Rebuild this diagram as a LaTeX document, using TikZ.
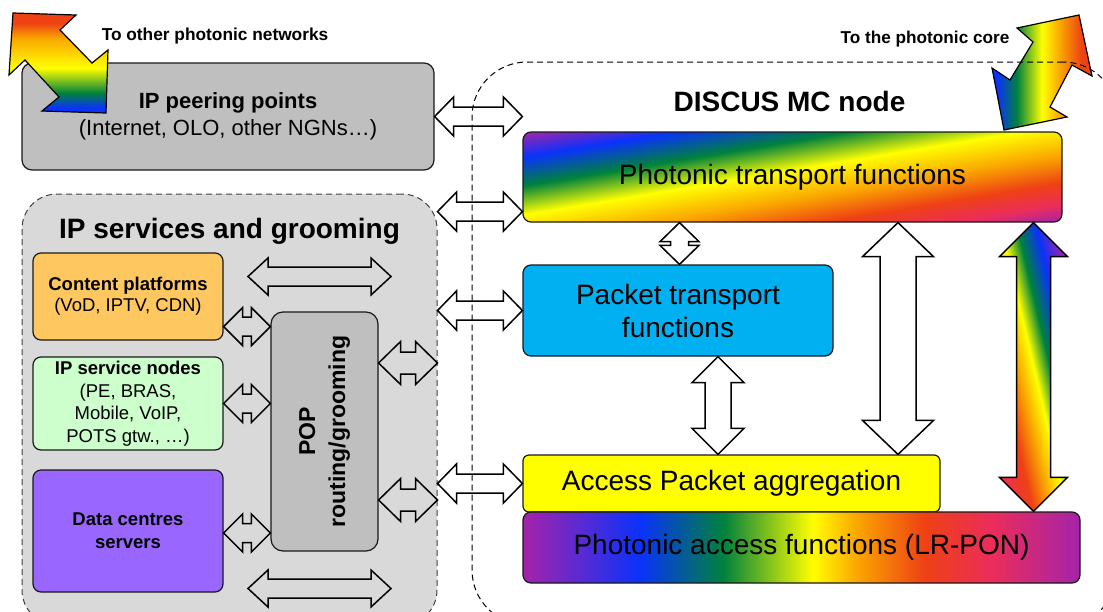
\documentclass[tikz,border=0pt]{standalone}
\usepackage{fontspec}
\setmainfont{Liberation Sans}
\usepackage{tikz}
\usetikzlibrary{calc}

% fills
\definecolor{peergray}{RGB}{191,191,191}
\definecolor{svcgray}{RGB}{217,217,217}
\definecolor{contentorange}{RGB}{255,199,95}
\definecolor{nodegreen}{RGB}{204,255,204}
\definecolor{dcpurple}{RGB}{153,102,255}
\definecolor{pktblue}{RGB}{0,176,240}
\definecolor{accyellow}{RGB}{255,255,0}
% rainbow
\definecolor{rbPurple}{RGB}{165,35,170}
\definecolor{rbBlue}{RGB}{10,50,250}
\definecolor{rbGreen}{RGB}{0,130,60}
\definecolor{rbYellow}{RGB}{255,255,0}
\definecolor{rbOrange}{RGB}{250,165,0}
\definecolor{rbRed}{RGB}{238,65,20}
\definecolor{rbPink}{RGB}{235,45,90}

\pgfdeclarehorizontalshading{rbPon}{100bp}{color(0bp)=(rbPurple); color(25bp)=(rbPurple);
  color(35.5bp)=(rbBlue); color(43bp)=(rbGreen); color(51bp)=(rbYellow); color(55bp)=(rbOrange);
  color(61bp)=(rbRed); color(67bp)=(rbPink); color(75bp)=(rbPurple); color(100bp)=(rbPurple)}
\pgfdeclarehorizontalshading{rbTransport}{100bp}{color(0bp)=(rbPurple); color(25bp)=(rbPurple);
  color(32bp)=(rbBlue); color(40bp)=(rbGreen); color(48bp)=(rbYellow); color(56.5bp)=(rbOrange);
  color(64bp)=(rbRed); color(70bp)=(rbPink); color(75bp)=(rbPurple); color(100bp)=(rbPurple)}
\pgfdeclarehorizontalshading{rbArrow}{100bp}{color(0bp)=(rbPink); color(27.5bp)=(rbPink);
  color(37.5bp)=(rbRed); color(44bp)=(rbOrange); color(50bp)=(rbYellow); color(56bp)=(rbGreen);
  color(63bp)=(rbBlue); color(71bp)=(rbPurple); color(100bp)=(rbPurple)}
\pgfdeclarehorizontalshading{rbCore}{100bp}{color(0bp)=(rbBlue); color(27.5bp)=(rbBlue);
  color(37.5bp)=(rbGreen); color(50bp)=(rbYellow); color(59bp)=(rbOrange); color(70bp)=(rbRed);
  color(100bp)=(rbRed)}
\pgfdeclareverticalshading{rbNet}{100bp}{color(0bp)=(rbBlue); color(27.5bp)=(rbBlue);
  color(35bp)=(rbGreen); color(47.5bp)=(rbYellow); color(62.5bp)=(rbOrange); color(70bp)=(rbRed);
  color(100bp)=(rbRed)}

\tikzset{
  box/.style={draw=black!90, line width=1.2pt, rounded corners=8pt, inner sep=0pt, align=center},
  fat/.style={draw=black, line width=1.5pt, line join=miter},
  % half head width, half shaft width, head length
  hfat/.style n args={3}{to path={
    -- ([shift={(#3,#1)}]\tikztostart) -- ([shift={(#3,#2)}]\tikztostart)
    -- ([shift={(-#3,#2)}]\tikztotarget) -- ([shift={(-#3,#1)}]\tikztotarget)
    -- (\tikztotarget)
    -- ([shift={(-#3,-#1)}]\tikztotarget) -- ([shift={(-#3,-#2)}]\tikztotarget)
    -- ([shift={(#3,-#2)}]\tikztostart) -- ([shift={(#3,-#1)}]\tikztostart)
    -- cycle}},
  vfat/.style n args={3}{to path={
    -- ([shift={(#1,#3)}]\tikztostart) -- ([shift={(#2,#3)}]\tikztostart)
    -- ([shift={(#2,-#3)}]\tikztotarget) -- ([shift={(#1,-#3)}]\tikztotarget)
    -- (\tikztotarget)
    -- ([shift={(-#1,-#3)}]\tikztotarget) -- ([shift={(-#2,-#3)}]\tikztotarget)
    -- ([shift={(-#2,#3)}]\tikztostart) -- ([shift={(-#1,#3)}]\tikztostart)
    -- cycle}},
  bigtext/.style={font=\fontsize{28}{33}\selectfont},
  smalltext/.style={font=\fontsize{18.5}{22.5}\selectfont},
}

\begin{document}
\begin{tikzpicture}[x=1pt, y=-1pt]
  \useasboundingbox (0,0) rectangle (1103,611);

  % IP services and grooming area
  \node[box, draw=black!75, line width=1pt, dash pattern=on 6pt off 4pt, fill=svcgray,
        rounded corners=35pt, minimum width=415pt, minimum height=431pt] (ipsvc) at (229.5,409.5) {};
  \node[font=\bfseries\fontsize{28}{33}\selectfont] (svctitle) at (229.5,231) {IP services and grooming};

  % IP peering points
  \node[box, fill=peergray, rounded corners=10pt, minimum width=412pt, minimum height=107pt,
        font=\fontsize{22}{27}\selectfont] (peer) at (228,116.5)
        {\textbf{IP peering points}\\(Internet, OLO, other NGNs…)};

  % photonic arrows to the outside
  \shadedraw[fat, line width=1.2pt, shading=rbNet] (13,13) -- (76,15) -- (60,30) -- (92,63) -- (108,50)
    -- (106,113) -- (42,111) -- (59,97) -- (25,60) -- (9,75) -- cycle;
  \node[font=\bfseries\fontsize{17.3}{20}\selectfont] (netlbl) at (215,36.5) {To other photonic networks};

  \shadedraw[fat, line width=1.2pt, shading=rbCore] (1079,15) -- (1092,76) -- (1072,65) -- (1050,107)
    -- (1067,117) -- (1004,130) -- (992,68) -- (1010,80) -- (1033,42) -- (1017,28) -- cycle;
  \node[font=\bfseries\fontsize{17.2}{20}\selectfont] (corelbl) at (925,39) {To the photonic core};

  % DISCUS MC node
  \node[draw=black, line width=1pt, dash pattern=on 6pt off 4pt, rounded corners=55pt,
        minimum width=646pt, minimum height=563pt] (mc) at (795,343.5) {};
  \node[font=\bfseries\fontsize{28}{33}\selectfont] (mctitle) at (789.5,101) {DISCUS MC node};

  % diagonal rainbow behind the photonic transport box
  \begin{scope}
    \clip[rounded corners=8pt] (523,132) rectangle (1062,222);
    \shade[shading=rbTransport, transform canvas={shift={(792.5,177)}, cm={10.78,-1.8,10.78,1.8,(0,0)}}]
      (-25,-25) rectangle (25,25);
  \end{scope}
  \node[box, minimum width=539pt, minimum height=90pt, bigtext] (ptf) at (792.5,177)
        {Photonic transport functions};
  \node[box, fill=pktblue, minimum width=310pt, minimum height=91pt, bigtext] (pkt) at (678,310.5)
        {Packet transport\\functions};
  \node[box, fill=accyellow, rounded corners=6pt, minimum width=417pt, minimum height=57pt, bigtext]
        (apa) at (731.5,483.5) {Access Packet aggregation};
  \node[box, shade, shading=rbPon, minimum width=557pt, minimum height=71pt, bigtext] (pon)
        at (801.5,547.5) {Photonic access functions (LR-PON)};

  % service platforms
  \node[box, fill=contentorange, minimum width=190pt, minimum height=87pt,
        font=\fontsize{18.5}{21}\selectfont] (content) at (128,296.5)
        {\textbf{Content platforms}\\(VoD, IPTV, CDN)};
  \node[box, fill=nodegreen, minimum width=190pt, minimum height=93pt, smalltext] (svcnodes)
        at (128,403.5) {\textbf{IP service nodes}\\(PE, BRAS,\\Mobile, VoIP,\\POTS gtw., …)};
  \node[box, fill=dcpurple, minimum width=190pt, minimum height=122pt,
        font=\bfseries\fontsize{18.5}{23}\selectfont] (dc) at (128,531) {Data centres\\servers};
  \node[box, fill=peergray, rounded corners=12pt, minimum width=107pt, minimum height=239pt] (pop)
        at (324.5,431.5) {};
  \node[rotate=90, align=center, font=\bfseries\fontsize{23}{30}\selectfont] (poplbl) at (pop.center)
        {POP\\routing/grooming};

  % arrows: IP side <-> MC node
  \coordinate (a1) at (peer.east -| ptf.west);
  \draw[fat, hfat={19.5}{9.5}{19}] (peer.east) to (a1);
  \coordinate (a2r) at ([yshift=11pt]ptf.south west);
  \coordinate (a2l) at (ipsvc.east |- a2r);
  \draw[fat, hfat={19.5}{9.5}{19}] (a2l) to (a2r);
  \coordinate (a3) at (ipsvc.east |- pkt.west);
  \draw[fat, hfat={19.5}{9.5}{19}] (a3) to (pkt.west);
  \coordinate (a4) at (ipsvc.east |- apa.west);
  \draw[fat, hfat={19.5}{9.5}{19}] (a4) to (apa.west);

  % arrows: platforms <-> POP
  \coordinate (b1) at ([yshift=14pt]content.south east);
  \coordinate (b1e) at (b1 -| pop.west);
  \draw[fat, hfat={19}{9.5}{19}] (b1) to (b1e);
  \coordinate (b2) at (svcnodes.east -| pop.west);
  \draw[fat, hfat={19}{9.5}{19}] (svcnodes.east) to (b2);
  \coordinate (b3) at ([yshift=-2pt]dc.east);
  \coordinate (b3e) at (b3 -| pop.west);
  \draw[fat, hfat={19}{9.5}{19}] (b3) to (b3e);

  % arrows: POP <-> outside
  \coordinate (c1) at ([yshift=68.5pt]pop.east);
  \coordinate (c1e) at (c1 -| ipsvc.east);
  \draw[fat, hfat={21.5}{11}{22}] (c1) to (c1e);
  \coordinate (c2) at ([yshift=-68.5pt]pop.east);
  \coordinate (c2e) at (c2 -| ipsvc.east);
  \draw[fat, hfat={21.5}{11}{22}] (c2) to (c2e);

  % wide arrows above and below POP
  \coordinate (w1) at (248,276.5);
  \coordinate (w1e) at (391,276.5);
  \draw[fat, hfat={18.5}{9.5}{20}] (w1) to (w1e);
  \coordinate (w2) at (248,588.5);
  \coordinate (w2e) at (391,588.5);
  \draw[fat, hfat={18.5}{9.5}{20}] (w2) to (w2e);

  % arrows inside the MC node
  \coordinate (d1) at ([xshift=1.5pt]pkt.north |- ptf.south);
  \coordinate (d1e) at ([xshift=1.5pt]pkt.north);
  \draw[fat, vfat={19.5}{9}{19}] (d1) to (d1e);
  \coordinate (d2) at ([xshift=40pt]pkt.south);
  \coordinate (d2e) at (d2 |- apa.north);
  \draw[fat, vfat={26}{13}{26}] (d2) to (d2e);
  \coordinate (d3) at ([xshift=105.5pt]ptf.south);
  \coordinate (d3e) at (d3 |- apa.north);
  \draw[fat, vfat={35.5}{18}{34}] (d3) to (d3e);
  \coordinate (d4) at ([xshift=241pt]ptf.south);
  \coordinate (d4e) at (d4 |- pon.north);
  \begin{scope}
    \clip[vfat={34}{17}{34}] (d4) to (d4e);
    \shade[shading=rbArrow, transform canvas={shift={(1033.5,367)}, cm={1.36,5.8,-1.36,5.8,(0,0)}}]
      (-25,-25) rectangle (25,25);
  \end{scope}
  \draw[fat, vfat={34}{17}{34}] (d4) to (d4e);
\end{tikzpicture}
\end{document}
